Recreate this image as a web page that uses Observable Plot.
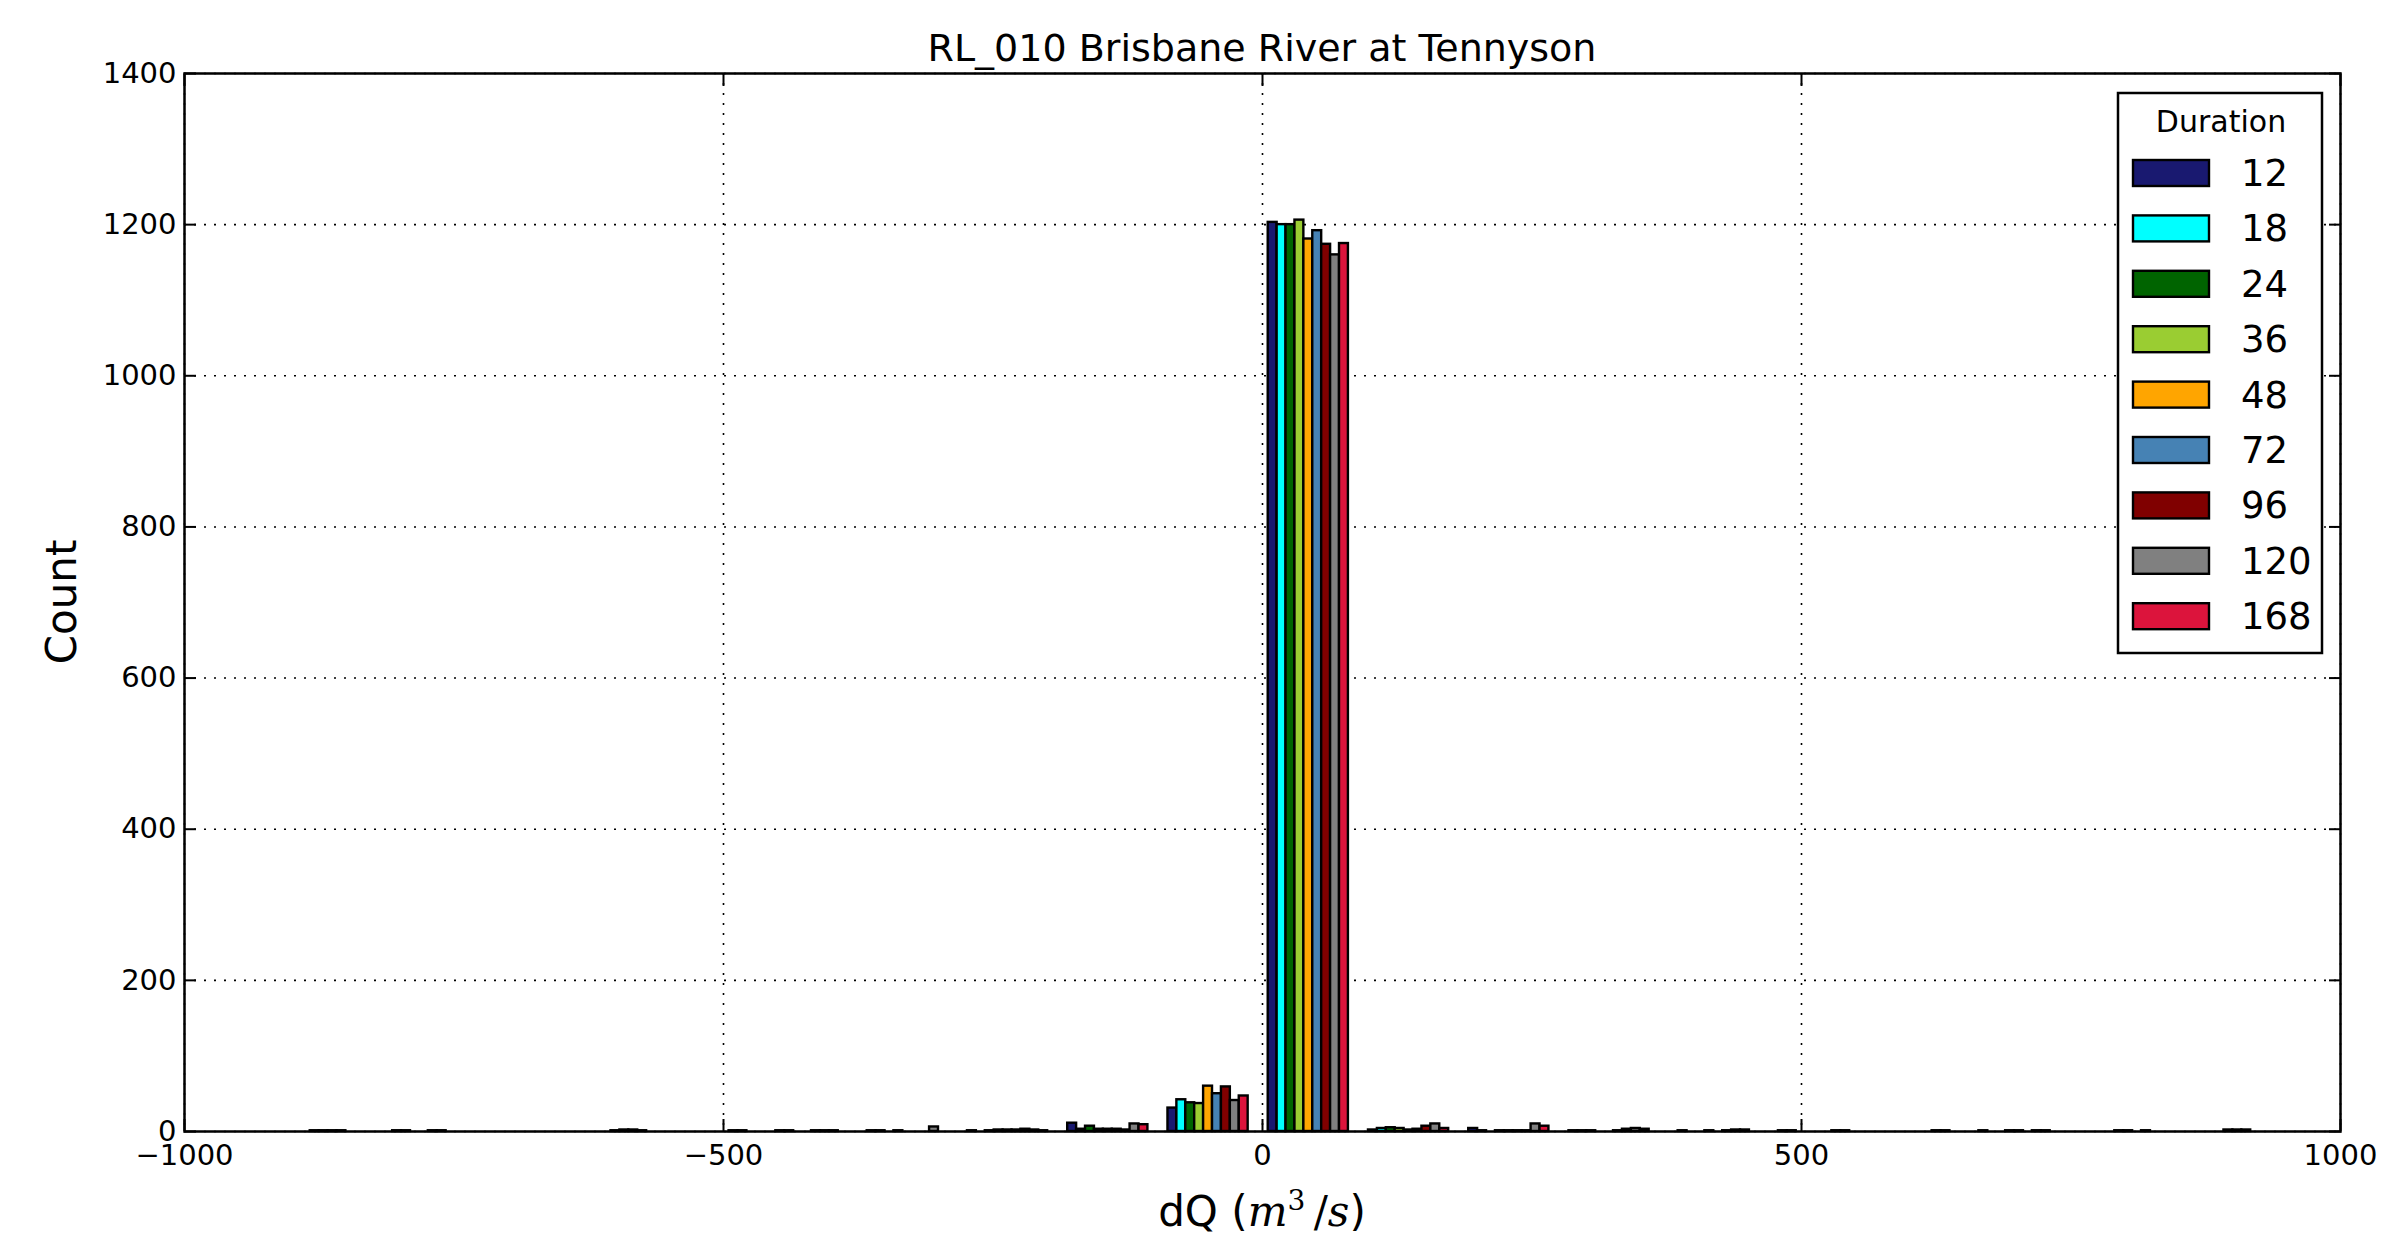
<!DOCTYPE html>
<html>
<head>
<meta charset="utf-8">
<script src="https://cdn.jsdelivr.net/npm/d3@7"></script>
<script src="https://cdn.jsdelivr.net/npm/@observablehq/plot@0.6"></script>
<style>
  html, body { margin: 0; padding: 0; background: white; }
  #chart { width: 2381px; height: 1245px; }
</style>
</head>
<body>
<div id="chart"></div>
<script>
// ---- data ----
const title = "RL_010 Brisbane River at Tennyson";
const durations = [12, 18, 24, 36, 48, 72, 96, 120, 168];
const colors = ["#191970", "#00FFFF", "#006400", "#9ACD32", "#FFA500", "#4682B4", "#800000", "#808080", "#DC143C"];
// histogram bin lower edges (m^3/s) and bin width
const binStarts = [-934, -841, -748, -655, -562, -469, -376, -283, -190, -97, -4, 89, 182, 275, 368, 461, 554, 647, 740, 833];
const binWidth = 93;
// counts per duration, one value per bin
const counts12  = [0,0,0,0,0,0,1,1,11,31,1203,2,4,1,0,0,0,0,0,0];
const counts18  = [0,0,0,0,0,1,1,0,3,42,1200,4,1,1,1,1,0,1,0,0];
const counts24  = [0,0,0,0,0,1,0,1,7,38,1200,5,0,1,0,1,0,0,0,0];
const counts36  = [0,1,0,0,0,0,1,2,3,37,1206,4,1,0,0,0,0,0,0,0];
const counts48  = [0,1,0,0,0,0,0,2,3,60,1181,2,1,0,1,0,0,1,0,0];
const counts72  = [1,0,0,1,0,1,0,2,3,50,1192,3,1,1,0,0,0,1,1,0];
const counts96  = [1,0,0,2,0,1,0,3,2,59,1174,7,1,3,1,0,0,0,1,2];
const counts120 = [1,1,0,2,1,1,6,2,10,41,1160,10,10,4,2,1,1,1,0,2];
const counts168 = [1,1,0,1,1,0,0,1,9,47,1175,4,7,3,2,1,1,1,1,2];
const xTicks = [-1000, -500, 0, 500, 1000];
const yTicks = [0, 200, 400, 600, 800, 1000, 1200, 1400];

// ---- build rows (matplotlib-style grouped histogram: 80% of bin shared by series) ----
const series = [counts12, counts18, counts24, counts36, counts48, counts72, counts96, counts120, counts168];
const rows = [];
const barW = binWidth * 0.8 / durations.length;
binStarts.forEach((b, k) => {
  durations.forEach((d, i) => {
    const x1 = b + binWidth * 0.1 + i * barW;
    rows.push({duration: d, x1, x2: x1 + barW, count: series[i][k]});
  });
});

const fmt = d3.format("d");
const font = "DejaVu Sans, sans-serif";

const chart = Plot.plot({
  width: 2381,
  height: 1245,
  marginLeft: 184,
  marginRight: 41,
  marginTop: 73,
  marginBottom: 114,
  x: {domain: [-1000, 1000]},
  y: {domain: [0, 1400]},
  color: {domain: durations, range: colors},
  style: {fontFamily: font, background: "white", color: "black"},
  marks: [
    Plot.gridX(xTicks, {stroke: "black", strokeOpacity: 1, strokeWidth: 1.6, strokeDasharray: "2,8"}),
    Plot.gridY(yTicks, {stroke: "black", strokeOpacity: 1, strokeWidth: 1.6, strokeDasharray: "2,8"}),
    Plot.rectY(rows, {x1: "x1", x2: "x2", y1: 0, y2: "count", fill: "duration", stroke: "black", strokeWidth: 2.4}),
    Plot.frame({stroke: "black", strokeWidth: 2.5}),
    Plot.axisX(xTicks, {anchor: "bottom", tickSize: 0, tickPadding: 13, tickFormat: fmt, fontSize: 29, label: null}),
    Plot.axisY(yTicks, {anchor: "left", tickSize: 0, tickPadding: 8, tickFormat: fmt, fontSize: 29, label: null}),
    Plot.axisX(xTicks, {anchor: "bottom", tickSize: -12, tickFormat: () => "", label: null, strokeWidth: 2}),
    Plot.axisX(xTicks, {anchor: "top", tickSize: -12, tickFormat: () => "", label: null, strokeWidth: 2}),
    Plot.axisY(yTicks, {anchor: "left", tickSize: -12, tickFormat: () => "", label: null, strokeWidth: 2}),
    Plot.axisY(yTicks, {anchor: "right", tickSize: -12, tickFormat: () => "", label: null, strokeWidth: 2})
  ]
});
document.getElementById("chart").appendChild(chart);

// ---- title, axis labels, legend ----
const svg = d3.select(chart);
const xs = chart.scale("x"), ys = chart.scale("y");
const cx = (xs.range[0] + xs.range[1]) / 2;
const cy = (ys.range[0] + ys.range[1]) / 2;

svg.append("text")
  .attr("x", cx).attr("y", 61)
  .attr("text-anchor", "middle")
  .style("font-family", font).style("font-size", "38px").attr("fill", "black")
  .text(title);

svg.append("text")
  .attr("transform", `translate(76,${cy}) rotate(-90)`)
  .attr("text-anchor", "middle")
  .style("font-family", font).style("font-size", "42px").attr("fill", "black")
  .text("Count");

const xl = svg.append("text")
  .attr("x", cx).attr("y", 1226)
  .attr("text-anchor", "middle")
  .style("font-family", font).style("font-size", "42px").attr("fill", "black");
xl.append("tspan").text("dQ (");
const serif = "DejaVu Serif, Liberation Serif, serif";
xl.append("tspan").style("font-family", serif).style("font-style", "italic").text("m");
xl.append("tspan").style("font-family", serif).style("font-size", "28px").attr("dy", -16).text("3");
xl.append("tspan").style("font-family", serif).attr("dy", 16).text("\u2009/");
xl.append("tspan").style("font-family", serif).style("font-style", "italic").text("s");
xl.append("tspan").text(")");

const lg = svg.append("g");
lg.append("rect")
  .attr("x", 2118).attr("y", 93).attr("width", 204).attr("height", 560)
  .attr("fill", "white").attr("stroke", "black").attr("stroke-width", 2.5);
lg.append("text")
  .attr("x", 2221).attr("y", 132).attr("text-anchor", "middle")
  .style("font-family", font).style("font-size", "30px").attr("fill", "black")
  .text("Duration");
durations.forEach((d, i) => {
  const yc = 173 + i * 55.4;
  lg.append("rect")
    .attr("x", 2133).attr("y", yc - 13).attr("width", 76).attr("height", 26)
    .attr("fill", colors[i]).attr("stroke", "black").attr("stroke-width", 2.4);
  lg.append("text")
    .attr("x", 2241).attr("y", yc + 13)
    .attr("text-anchor", "start")
    .style("font-family", font).style("font-size", "37px").attr("fill", "black")
    .text(d);
});
</script>
</body>
</html>
